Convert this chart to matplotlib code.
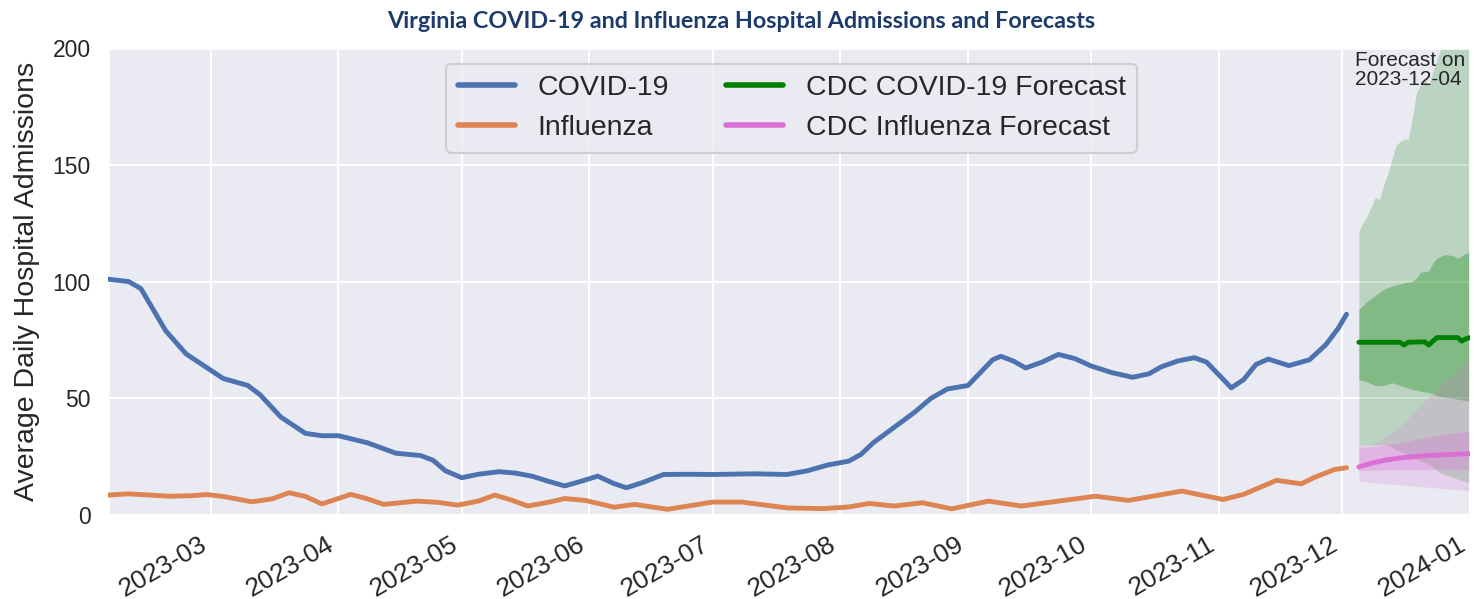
import pandas as pd
import matplotlib
matplotlib.use("Agg")
import matplotlib.pyplot as plt
import matplotlib.dates as mdates
import seaborn as sns

covid_dates = ["2023-02-04", "2023-02-09", "2023-02-12", "2023-02-15", "2023-02-18", "2023-02-23",
               "2023-03-01", "2023-03-04", "2023-03-07", "2023-03-10", "2023-03-13", "2023-03-18",
               "2023-03-24", "2023-03-28", "2023-04-01", "2023-04-08", "2023-04-15", "2023-04-21",
               "2023-04-24", "2023-04-27", "2023-05-01", "2023-05-05", "2023-05-10", "2023-05-14",
               "2023-05-18", "2023-05-22", "2023-05-26", "2023-05-30", "2023-06-03", "2023-06-07",
               "2023-06-10", "2023-06-14", "2023-06-19", "2023-06-25", "2023-07-01", "2023-07-11",
               "2023-07-19", "2023-07-24", "2023-07-29", "2023-08-03", "2023-08-06", "2023-08-09",
               "2023-08-14", "2023-08-19", "2023-08-23", "2023-08-27", "2023-09-01", "2023-09-04",
               "2023-09-07", "2023-09-09", "2023-09-12", "2023-09-15", "2023-09-19", "2023-09-23",
               "2023-09-27", "2023-10-01", "2023-10-06", "2023-10-11", "2023-10-15", "2023-10-18",
               "2023-10-22", "2023-10-26", "2023-10-29", "2023-11-01", "2023-11-04", "2023-11-07",
               "2023-11-10", "2023-11-13", "2023-11-18", "2023-11-23", "2023-11-27", "2023-11-30",
               "2023-12-02"]
covid_vals = [101, 100, 97, 88, 79, 69,
              62, 58.5, 57, 55.5, 51.5, 42,
              35, 34, 34, 31, 26.5, 25.5,
              23.5, 19, 16, 17.5, 18.6, 18,
              16.7, 14.5, 12.5, 14.5, 16.7, 13.5,
              11.7, 14, 17.4, 17.5, 17.4, 17.7,
              17.4, 19, 21.5, 23.1, 26, 31,
              37.5, 44, 50, 54, 55.5, 61,
              66.5, 68, 66, 63, 65.5, 68.8,
              67, 63.8, 61, 59, 60.5, 63.5,
              66, 67.4, 65.5, 60, 54.5, 58,
              64.5, 66.8, 64, 66.5, 73, 80,
              86]

flu_dates = ["2023-02-04", "2023-02-09", "2023-02-14", "2023-02-19", "2023-02-24", "2023-02-28",
             "2023-03-04", "2023-03-11", "2023-03-16", "2023-03-20", "2023-03-24", "2023-03-28",
             "2023-04-04", "2023-04-08", "2023-04-12", "2023-04-20", "2023-04-25", "2023-04-30",
             "2023-05-05", "2023-05-09", "2023-05-13", "2023-05-17", "2023-05-22", "2023-05-26",
             "2023-05-31", "2023-06-07", "2023-06-12", "2023-06-20", "2023-07-01", "2023-07-08",
             "2023-07-19", "2023-07-28", "2023-08-03", "2023-08-08", "2023-08-14", "2023-08-21",
             "2023-08-28", "2023-09-06", "2023-09-14", "2023-10-02", "2023-10-10", "2023-10-23",
             "2023-11-02", "2023-11-07", "2023-11-15", "2023-11-21", "2023-11-24", "2023-11-29",
             "2023-12-02"]
flu_vals = [8.6, 9.1, 8.6, 8.1, 8.3, 8.8,
            8, 5.7, 7, 9.6, 8, 4.8,
            8.9, 7, 4.6, 6, 5.5, 4.3,
            6, 8.6, 6.5, 3.9, 5.5, 7.1,
            6.3, 3.4, 4.6, 2.5, 5.6, 5.6,
            3.1, 2.8, 3.5, 5, 3.9, 5.3,
            2.7, 6, 3.9, 8.1, 6.3, 10.3,
            6.7, 8.9, 14.9, 13.4, 16, 19.5,
            20.3]

# CDC forecast made on 2023-12-04
fc_covid_dates = ["2023-12-05", "2023-12-15", "2023-12-16", "2023-12-17", "2023-12-21", "2023-12-22",
                  "2023-12-23", "2023-12-24", "2023-12-29", "2023-12-30", "2023-12-31", "2024-01-01"]
fc_covid_mid = [74, 74, 72.8, 74, 74.2, 72.8, 74.5, 76, 76, 74.5, 75.5, 76]

fc_covid_outer_dates = ["2023-12-05", "2023-12-06", "2023-12-07", "2023-12-08", "2023-12-09", "2023-12-10",
                        "2023-12-11", "2023-12-12", "2023-12-13", "2023-12-14", "2023-12-15", "2023-12-16",
                        "2023-12-17", "2023-12-18", "2023-12-19", "2023-12-20", "2023-12-21", "2023-12-22",
                        "2023-12-23", "2023-12-24", "2023-12-25", "2023-12-28", "2024-01-01"]
fc_covid_hi95 = [121.6, 125, 128, 132, 136, 135,
                 141, 146, 152, 158, 160, 161,
                 161, 170, 181, 184, 187, 184,
                 190, 195, 200, 212, 230]
fc_covid_lo95 = [30, 30, 30, 30, 30, 30,
                 30, 30, 29, 28, 27.2, 26.5,
                 25.7, 24.8, 24, 23.2, 22.5, 21.7,
                 20.5, 19.2, 18, 16, 13.8]

fc_covid_inner_dates = ["2023-12-05", "2023-12-07", "2023-12-09", "2023-12-11", "2023-12-13", "2023-12-16",
                        "2023-12-18", "2023-12-19", "2023-12-20", "2023-12-22", "2023-12-23", "2023-12-24",
                        "2023-12-26", "2023-12-28", "2023-12-29", "2024-01-01"]
fc_covid_hi50 = [88, 91.5, 94, 96.7, 98, 99.5,
                 100, 101.6, 104, 104.5, 108, 110,
                 111.6, 111, 110, 113]
fc_covid_lo50 = [58, 57, 55.5, 55.5, 56.7, 55,
                 53.8, 53.5, 53, 52.5, 52, 51,
                 50.5, 50, 49.6, 48.8]

fc_flu_dates = ["2023-12-05", "2023-12-08", "2023-12-11", "2023-12-15", "2023-12-20", "2023-12-25",
                "2024-01-01"]
fc_flu_mid = [20.6, 22.2, 23.4, 24.5, 25.3, 25.8, 26.3]
fc_flu_hi50 = [29, 29.3, 29.8, 31, 33, 34.5, 36]
fc_flu_lo50 = [19, 19.2, 19.3, 19.5, 19.5, 19.6, 19.6]
fc_flu_hi95 = [30, 30, 33, 38, 47, 56, 67]
fc_flu_lo95 = [14.5, 14, 13.5, 13, 12.2, 11.5, 10.3]

sns.set_theme(style="darkgrid", context="talk")
plt.rcParams["font.family"] = ["Liberation Sans", "DejaVu Sans"]

fig, ax = plt.subplots(figsize=(14.83, 5.99), dpi=100)
fig.subplots_adjust(left=0.0728, right=0.9912, top=0.92, bottom=0.14)

blue = "#4c72b0"
orange = "#dd8452"

ax.plot(pd.to_datetime(covid_dates), covid_vals, color=blue, lw=3.5, label="COVID-19",
        solid_capstyle="round", zorder=3)
ax.plot(pd.to_datetime(flu_dates), flu_vals, color=orange, lw=3.5, label="Influenza",
        solid_capstyle="round", zorder=3)

# forecast bands
ax.fill_between(pd.to_datetime(fc_covid_outer_dates), fc_covid_lo95, fc_covid_hi95,
                color="green", alpha=0.2, lw=0)
ax.fill_between(pd.to_datetime(fc_covid_inner_dates), fc_covid_lo50, fc_covid_hi50,
                color="green", alpha=0.3, lw=0)
ax.fill_between(pd.to_datetime(fc_flu_dates), fc_flu_lo95, fc_flu_hi95,
                color="orchid", alpha=0.2, lw=0)
ax.fill_between(pd.to_datetime(fc_flu_dates), fc_flu_lo50, fc_flu_hi50,
                color="orchid", alpha=0.3, lw=0)
ax.plot(pd.to_datetime(fc_covid_dates), fc_covid_mid, color="green", lw=3.5,
        label="CDC COVID-19 Forecast", solid_capstyle="round", zorder=3)
ax.plot(pd.to_datetime(fc_flu_dates), fc_flu_mid, color="orchid", lw=3.5,
        label="CDC Influenza Forecast", solid_capstyle="round", zorder=3)

ax.text(pd.Timestamp("2023-12-04"), 198.5, "Forecast on\n2023-12-04", ha="left", va="top",
        fontsize=15, color="#262626", linespacing=1.0)

ax.set_xlim(pd.Timestamp("2023-02-04"), pd.Timestamp("2024-01-01"))
ax.set_ylim(0, 200)
ax.set_yticks([0, 50, 100, 150, 200])
ax.xaxis.set_major_locator(mdates.MonthLocator())
ax.xaxis.set_major_formatter(mdates.DateFormatter("%Y-%m"))
ax.tick_params(axis="x", labelsize=19)
ax.tick_params(axis="y", labelsize=16.5)
plt.setp(ax.get_xticklabels(), rotation=30, ha="right")
ax.set_ylabel("Average Daily Hospital Admissions", fontsize=20.5, labelpad=9)

leg = ax.legend(loc="upper center", bbox_to_anchor=(0.502, 0.997), ncol=2, fontsize=20.5,
                frameon=True, handlelength=2.0, columnspacing=2.0)
leg.get_frame().set_edgecolor("#c8c8c8")
for line in leg.get_lines():
    line.set_linewidth(4)

fig.text(0.5, 1 - 22 / 599, "Virginia COVID-19 and Influenza Hospital Admissions and Forecasts",
         ha="center", va="center", fontsize=16.8, fontweight="bold", color="#1d3b6a",
         family=["Lato", "DejaVu Sans"])

fig.savefig("out.png", dpi=100)
